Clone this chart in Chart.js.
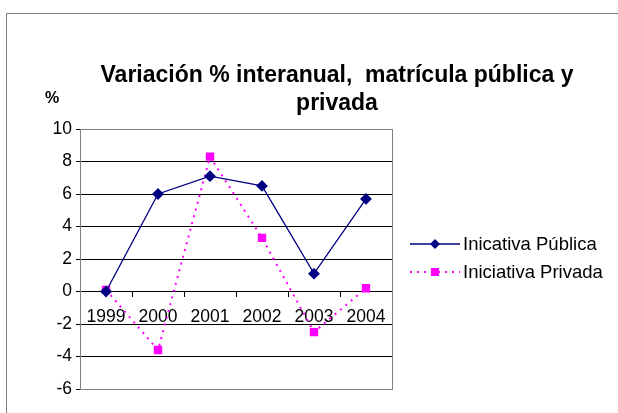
<!DOCTYPE html>
<html><head><meta charset="utf-8">
<script src="https://cdn.jsdelivr.net/npm/chart.js@4"></script>
<style>html,body{margin:0;padding:0;background:#fff}#wrap{width:618px;height:413px;position:relative}</style>
</head><body><div id="wrap"><canvas id="c" width="618" height="413"></canvas></div>
<script>
const categories = ['1999', '2000', '2001', '2002', '2003', '2004'];
const publicValues = [0, 6.0, 7.1, 6.5, 1.1, 5.7];
const privateValues = [0.1, -3.6, 8.3, 3.3, -2.5, 0.2];
const seriesLabels = ['Inicativa Pública', 'Iniciativa Privada'];
const titleLines = ['Variación % interanual,  matrícula pública y', 'privada'];
const yUnit = '%';

const FONT = '"Liberation Sans", Arial, sans-serif';

const decor = {
  id: 'decor',
  beforeDraw(chart) {
    const ctx = chart.ctx;
    ctx.save();
    ctx.fillStyle = '#fff';
    ctx.fillRect(0, 0, 618, 413);
    ctx.strokeStyle = '#7f7f7f';
    ctx.lineWidth = 1;
    ctx.beginPath();
    ctx.moveTo(6.5, 413); ctx.lineTo(6.5, 13.5); ctx.lineTo(618, 13.5);
    ctx.stroke();
    ctx.restore();
  },
  afterDraw(chart) {
    const ctx = chart.ctx;
    const a = chart.chartArea;
    ctx.save();
    ctx.strokeStyle = '#808080';
    ctx.lineWidth = 1;
    ctx.strokeRect(a.left + 0.5, a.top + 0.5, a.right - a.left, a.bottom - a.top);
    ctx.fillStyle = '#000';
    ctx.font = 'bold 23px ' + FONT;
    ctx.textAlign = 'center';
    ctx.textBaseline = 'alphabetic';
    ctx.fillText(titleLines[0], 337, 82);
    ctx.fillText(titleLines[1], 337, 110);
    ctx.font = 'bold 16px ' + FONT;
    ctx.fillText(yUnit, 52, 103);
    ctx.font = '18.5px ' + FONT;
    ctx.textAlign = 'left';
    ctx.textBaseline = 'middle';
    const rows = [244, 272];
    chart.data.datasets.forEach((ds, i) => {
      const y = rows[i];
      ctx.strokeStyle = ds.borderColor;
      ctx.lineWidth = ds.borderWidth;
      ctx.setLineDash(ds.borderDash || []);
      ctx.beginPath();
      ctx.moveTo(410, y); ctx.lineTo(460, y);
      ctx.stroke();
      ctx.setLineDash([]);
      ctx.fillStyle = ds.pointBackgroundColor;
      if (ds.pointStyle === 'rectRot') {
        ctx.beginPath();
        ctx.moveTo(435, y - 5); ctx.lineTo(440, y); ctx.lineTo(435, y + 5); ctx.lineTo(430, y);
        ctx.closePath(); ctx.fill();
      } else {
        ctx.fillRect(431, y - 4, 8, 8);
      }
      ctx.fillStyle = '#000';
      ctx.fillText(ds.label, 463, y + 1);
    });
    ctx.restore();
  }
};

new Chart(document.getElementById('c'), {
  type: 'line',
  data: {
    labels: categories,
    datasets: [
      {
        label: seriesLabels[0], data: publicValues,
        borderColor: '#000080', backgroundColor: '#000080',
        pointBackgroundColor: '#000080', pointBorderColor: '#000080',
        borderWidth: 1.3, pointStyle: 'rectRot', pointRadius: 5, tension: 0
      },
      {
        label: seriesLabels[1], data: privateValues,
        borderColor: '#ff00ff', backgroundColor: '#ff00ff',
        pointBackgroundColor: '#ff00ff', pointBorderColor: '#ff00ff',
        borderWidth: 2, borderDash: [2, 5], pointStyle: 'rect', pointRadius: 4.5, tension: 0
      }
    ]
  },
  options: {
    responsive: false,
    animation: false,
    devicePixelRatio: 1,
    layout: { padding: { left: 0, right: 226, top: 129, bottom: 24 } },
    plugins: { legend: { display: false }, title: { display: false }, tooltip: { enabled: false } },
    scales: {
      x: {
        type: 'category',
        offset: true,
        position: { y: 0 },
        grid: { offset: true, drawOnChartArea: false, drawTicks: true, tickLength: 5, color: '#000' },
        border: { display: true, color: '#000', width: 1 },
        ticks: { color: '#000', font: { family: FONT, size: 17.5 }, padding: 10, maxRotation: 0, autoSkip: false }
      },
      y: {
        min: -6, max: 10,
        afterFit(scale) { scale.width = 80; },
        ticks: { stepSize: 2, color: '#000', font: { family: FONT, size: 17.5 }, padding: 4 },
        grid: {
          color: (c) => (c.tick && (c.tick.value === 10 || c.tick.value === -6)) ? '#808080' : '#000',
          tickColor: '#000', tickLength: 4, drawTicks: true
        },
        border: { display: true, color: '#808080', width: 1 }
      }
    }
  },
  plugins: [decor]
});
</script></body></html>
